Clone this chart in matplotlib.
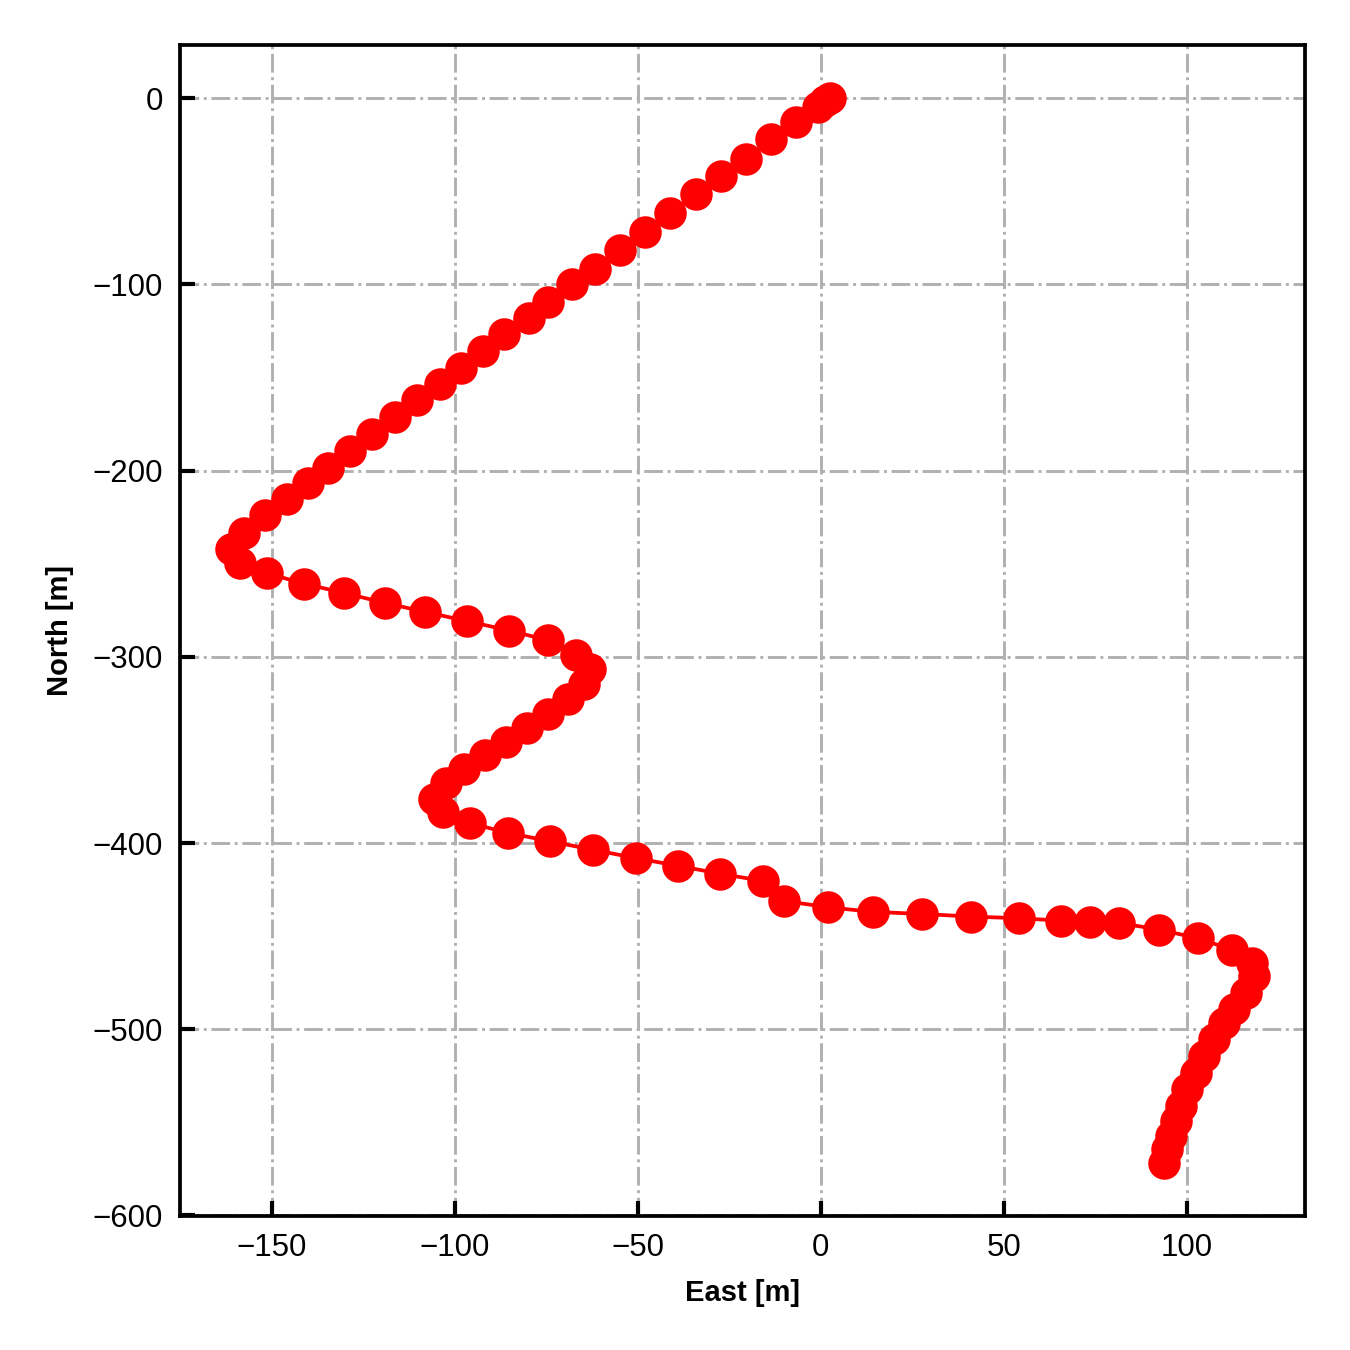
import matplotlib
matplotlib.use('Agg')
import matplotlib.pyplot as plt

# Vehicle track, local east/north in metres
east = [
    2.4, 1.2, -0.7, -6.9, -13.5, -20.4, -27.3, -34.2, -41.1, -48.0, -54.9,
    -61.7, -68.0, -74.5, -79.9, -86.5, -92.3, -98.4, -104.2, -110.5, -116.5,
    -122.7, -128.8, -134.6, -140.1, -145.9, -151.8, -157.8, -161.2, -158.9,
    -151.5, -141.4, -130.3, -119.1, -108.1, -96.6, -85.1, -74.7, -66.8, -63.2,
    -64.7, -69.2, -74.7, -80.4, -86.1, -91.7, -97.4, -102.5, -105.6, -103.4,
    -96.0, -85.6, -74.0, -62.3, -50.6, -38.9, -27.5, -15.8, -10.0, 1.9,
    14.3, 27.7, 41.1, 54.1, 65.8, 73.6, 81.4, 92.5, 103.2, 112.5,
    117.9, 118.4, 116.2, 113.0, 110.3, 107.5, 104.8, 102.5, 100.2,
    98.4, 97.0, 95.7, 94.6, 93.7,
]
north = [
    0.0, -1.5, -5.0, -12.7, -22.0, -32.4, -41.9, -51.7, -61.9, -71.7, -81.4,
    -91.6, -100.0, -109.7, -117.9, -126.8, -135.6, -144.7, -153.3, -162.3, -171.4,
    -180.1, -189.3, -198.4, -206.6, -215.1, -223.6, -233.6, -242.1, -249.6,
    -255.0, -260.7, -265.7, -271.1, -275.9, -280.9, -285.9, -291.1, -299.1, -306.4,
    -314.8, -322.9, -330.5, -338.0, -345.5, -353.0, -360.4, -367.9, -376.1, -383.2,
    -389.3, -394.5, -399.1, -403.6, -408.1, -412.3, -416.5, -420.4, -431.1, -434.5,
    -437.0, -438.1, -439.5, -440.4, -441.7, -442.6, -442.9, -446.5, -451.2, -457.4,
    -464.3, -471.5, -480.5, -489.4, -496.5, -505.5, -514.4, -523.4, -532.3,
    -541.3, -549.3, -557.4, -564.5, -571.7,
]

plt.rcParams['font.family'] = ['Liberation Sans', 'DejaVu Sans']

fig = plt.figure(figsize=(4.5, 4.5), dpi=300)
ax = fig.add_axes([0.1333, 0.0993, 0.8334, 0.8674])

ax.plot(east, north, color='red', linewidth=0.9, marker='o',
        markersize=6.8, markerfacecolor='red', markeredgecolor='red')

ax.grid(True, color='#b0b0b0', linestyle='-.', linewidth=0.7)
ax.set_axisbelow(True)
ax.tick_params(direction='in', labelsize=7.5, width=1.0, length=3.5, pad=4)
for sp in ax.spines.values():
    sp.set_linewidth(0.9)

ax.set_xlabel('East [m]', fontsize=7, fontweight='bold', labelpad=4)
ax.set_ylabel('North [m]', fontsize=7, fontweight='bold', labelpad=4.5)

fig.savefig('out.png', dpi=300)
